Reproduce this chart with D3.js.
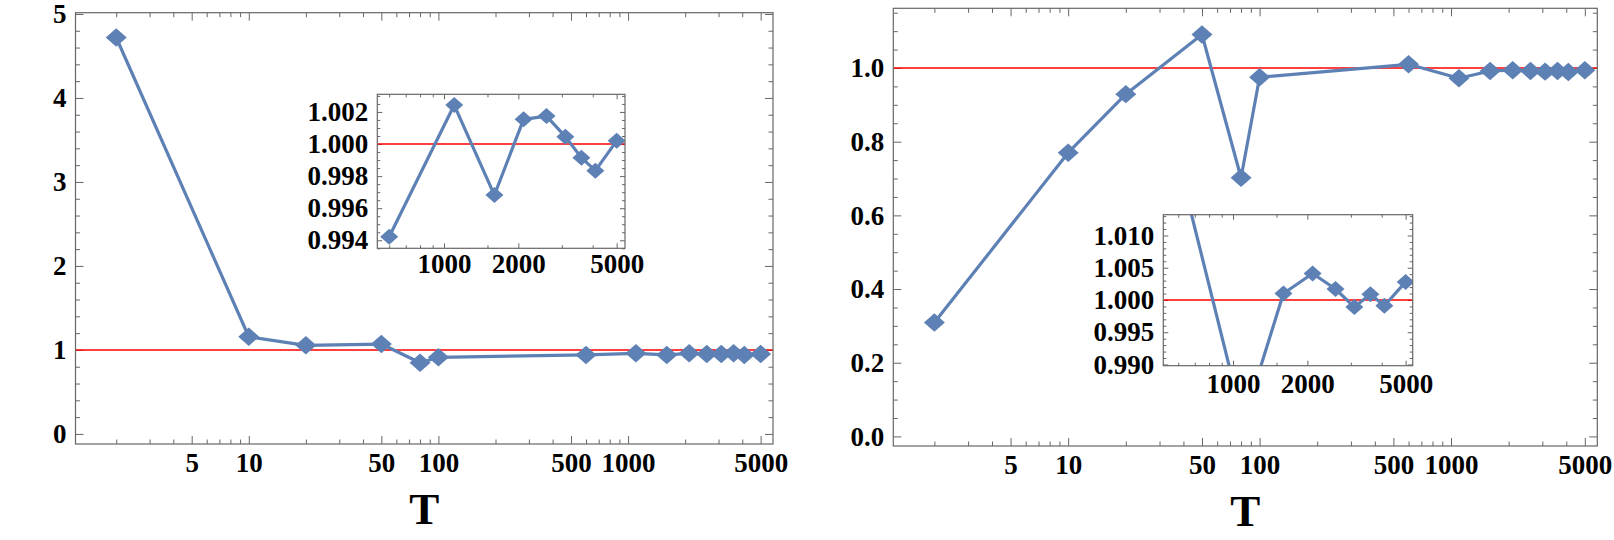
<!DOCTYPE html>
<html><head><meta charset="utf-8">
<script src="https://cdn.jsdelivr.net/npm/d3@7"></script>
<style>
body{margin:0;background:#fff}
svg{display:block}
text{font-family:"Liberation Serif","Times New Roman",serif;font-weight:bold;fill:#000}
</style>
</head><body>
<svg id="c" width="1614" height="540"></svg>
<script>
// ---- data ----
const T = [2,10,20,50,80,100,600,1100,1600,2100,2600,3100,3600,4100,5000];
const leftValues  = [4.72,1.157,1.055,1.07,0.848,0.912,0.94,0.96,0.94,0.96,0.951,0.951,0.96,0.94,0.951];
const rightValues = [0.309,0.770,0.929,1.091,0.702,0.975,1.010,0.972,0.992,0.994,0.992,0.990,0.992,0.989,0.994];
const insetT = [600,1100,1600,2100,2600,3100,3600,4100,5000];
const leftInsetValues  = [0.99422,1.00243,0.99682,1.00154,1.00174,1.00046,0.99915,0.99834,1.0002];
const rightInsetValues = [1.0215,0.981,1.0010,1.0041,1.0017,0.9989,1.0009,0.9991,1.0028];
const referenceValue = 1;
const mainXLabels = [5,10,50,100,500,1000,5000];
const mainXMinor = [2,3,4,6,7,8,9,20,30,40,60,70,80,90,200,300,400,600,700,800,900,2000,3000,4000];
const insetXLabels = [1000,2000,5000];
const insetXMinor = [600,700,800,900,1500,3000,4000];
const leftYLabels = [0,1,2,3,4,5];
const rightYLabels = [0.0,0.2,0.4,0.6,0.8,1.0];
const leftInsetYLabels = [0.994,0.996,0.998,1.000,1.002];
const rightInsetYLabels = [0.990,0.995,1.000,1.005,1.010];
const axisTitle = "T";

// ---- drawing ----
const svg = d3.select("#c");
const BLUE = "#5E81B5", FRAME = "#666";
let clipId = 0;

function range(a,b,step){const r=[];const n=Math.round((b-a)/step);for(let i=0;i<=n;i++)r.push(+(a+i*step).toFixed(6));return r;}

function diamondType(hw,hh){
  return {draw(ctx){ctx.moveTo(0,-hh);ctx.lineTo(hw,0);ctx.lineTo(0,hh);ctx.lineTo(-hw,0);ctx.closePath();}};
}

function panel(c){
  const g = svg.append("g");
  const x = d3.scaleLog().domain(c.xDomain).range([c.x0,c.x1]);
  const y = d3.scaleLinear().domain(c.yDomain).range([c.y1,c.y0]);
  g.append("rect").attr("x",c.x0).attr("y",c.y0).attr("width",c.x1-c.x0).attr("height",c.y1-c.y0)
    .attr("fill","#fff");
  const id = "clip"+(clipId++);
  g.append("clipPath").attr("id",id).append("rect")
    .attr("x",c.x0).attr("y",c.y0).attr("width",c.x1-c.x0).attr("height",c.y1-c.y0);

  const start = Math.ceil(c.yDomain[0]/c.yMinorStep-1e-6)*c.yMinorStep;
  const yMinor = range(start, c.yDomain[1], c.yMinorStep)
      .filter(v=>v>=c.yDomain[0]&&v<=c.yDomain[1]&&!c.yLabels.some(m=>Math.abs(m-v)<1e-7));

  const styleAxis = sel=>{sel.select(".domain").remove();sel.selectAll("line").attr("stroke",FRAME).attr("stroke-width",1);
    sel.selectAll("text").attr("font-size",c.fs).attr("fill","#000");};

  g.append("g").attr("transform",`translate(0,${c.y1})`)
    .call(d3.axisBottom(x).tickValues(c.xMinor).tickSize(-c.minorLen).tickFormat(""))
    .call(styleAxis);
  g.append("g").attr("transform",`translate(0,${c.y1})`)
    .call(d3.axisBottom(x).tickValues(c.xLabels).tickSize(-c.majorLen).tickPadding(c.xPad).tickFormat(d3.format("d")))
    .call(styleAxis);
  g.append("g").attr("transform",`translate(0,${c.y0})`)
    .call(d3.axisTop(x).tickValues(c.xMinor).tickSize(-c.minorLen).tickFormat(""))
    .call(styleAxis);
  g.append("g").attr("transform",`translate(0,${c.y0})`)
    .call(d3.axisTop(x).tickValues(c.xLabels).tickSize(-c.majorLen).tickFormat(""))
    .call(styleAxis);
  g.append("g").attr("transform",`translate(${c.x0},0)`)
    .call(d3.axisLeft(y).tickValues(yMinor).tickSize(-c.minorLen).tickFormat(""))
    .call(styleAxis);
  g.append("g").attr("transform",`translate(${c.x0},0)`)
    .call(d3.axisLeft(y).tickValues(c.yLabels).tickSize(-c.majorLen).tickPadding(c.yPad).tickFormat(d3.format(c.yFmt)))
    .call(styleAxis);
  g.append("g").attr("transform",`translate(${c.x1},0)`)
    .call(d3.axisRight(y).tickValues(yMinor).tickSize(-c.minorLen).tickFormat(""))
    .call(styleAxis);
  g.append("g").attr("transform",`translate(${c.x1},0)`)
    .call(d3.axisRight(y).tickValues(c.yLabels).tickSize(-c.majorLen).tickFormat(""))
    .call(styleAxis);

  const plot = g.append("g").attr("clip-path",`url(#${id})`);
  plot.append("line").attr("x1",c.x0).attr("x2",c.x1)
    .attr("y1",y(referenceValue)).attr("y2",y(referenceValue))
    .attr("stroke","#FF0000").attr("stroke-width",1.4);
  const pts = c.T.map((t,i)=>[t,c.values[i]]);
  plot.append("path").datum(pts)
    .attr("d",d3.line().x(d=>x(d[0])).y(d=>y(d[1])))
    .attr("fill","none").attr("stroke",BLUE).attr("stroke-width",3.2).attr("stroke-linejoin","round");
  const sym = d3.symbol().type(diamondType(c.mw,c.mh));
  plot.selectAll("path.m").data(pts).join("path").attr("class","m")
    .attr("transform",d=>`translate(${x(d[0])},${y(d[1])})`)
    .attr("d",sym).attr("fill",BLUE);

  g.append("rect").attr("x",c.x0).attr("y",c.y0).attr("width",c.x1-c.x0).attr("height",c.y1-c.y0)
    .attr("fill","none").attr("stroke",FRAME).attr("stroke-width",1.2);

  if(c.title){
    g.append("text").attr("x",(c.x0+c.x1)/2).attr("y",c.titleY).attr("text-anchor","middle")
      .attr("font-size",45).text(c.title);
  }
}

const xDom = [1.22,5810];
panel({x0:75.5,x1:773,y0:12.7,y1:444,xDomain:xDom,yDomain:[-0.12,5.015],
  xLabels:mainXLabels,xMinor:mainXMinor,yLabels:leftYLabels,yMinorStep:0.2,yFmt:"d",
  T:T,values:leftValues,mw:10.5,mh:9.2,fs:27,xPad:9,yPad:9,majorLen:8,minorLen:4.5,
  title:axisTitle,titleY:524});
panel({x0:377.3,x1:625,y0:94.3,y1:248.3,xDomain:[537,5405],yDomain:[0.9935,1.0031],
  xLabels:insetXLabels,xMinor:insetXMinor,yLabels:leftInsetYLabels,yMinorStep:0.0005,yFmt:".3f",
  T:insetT,values:leftInsetValues,mw:9,mh:8,fs:27,xPad:6,yPad:9,majorLen:5,minorLen:3});
panel({x0:893.3,x1:1597.3,y0:8.3,y1:446,xDomain:xDom,yDomain:[-0.026,1.162],
  xLabels:mainXLabels,xMinor:mainXMinor,yLabels:rightYLabels,yMinorStep:0.05,yFmt:".1f",
  T:T,values:rightValues,mw:10.5,mh:9.2,fs:27,xPad:9,yPad:9,majorLen:8,minorLen:4.5,
  title:axisTitle,titleY:526});
panel({x0:1163.3,x1:1412.7,y0:214.7,y1:365.7,xDomain:[522,5340],yDomain:[0.98981,1.01322],
  xLabels:insetXLabels,xMinor:insetXMinor,yLabels:rightInsetYLabels,yMinorStep:0.001,yFmt:".3f",
  T:insetT,values:rightInsetValues,mw:9,mh:8,fs:27,xPad:8,yPad:9,majorLen:5,minorLen:3});
</script>
</body></html>
